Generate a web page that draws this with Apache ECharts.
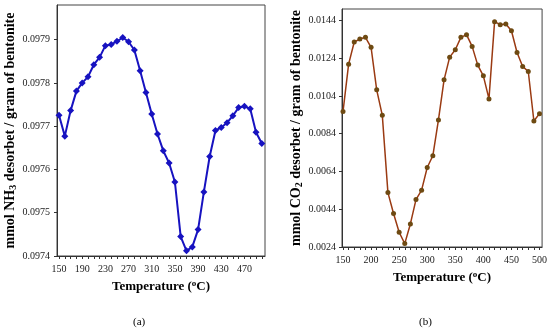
<!DOCTYPE html>
<html>
<head>
<meta charset="utf-8">
<script src="https://cdn.jsdelivr.net/npm/echarts@6/dist/echarts.min.js"></script>
<style>
html,body{margin:0;padding:0;background:#fff;}
#chart{width:550px;height:331px;}
</style>
</head>
<body>
<div id="chart"></div>
<script>
// Temperatures (°C)
const temps = [150,160,170,180,190,200,210,220,230,240,250,260,270,280,290,300,310,320,330,340,350,360,370,380,390,400,410,420,430,440,450,460,470,480,490,500];
// (a) NH3 desorbed
const nh3 = [0.097725,0.097677,0.097736,0.097781,0.097800,0.097814,0.097842,0.097859,0.097886,0.097889,0.097896,0.097905,0.097895,0.097876,0.097828,0.097778,0.097728,0.097682,0.097643,0.097615,0.097571,0.097445,0.097412,0.097421,0.097461,0.097548,0.097630,0.097690,0.097697,0.097708,0.097724,0.097743,0.097746,0.097740,0.097686,0.097660];
// (b) CO2 desorbed
const co2 = [0.00957,0.01208,0.01325,0.01341,0.01350,0.01297,0.01072,0.00937,0.00528,0.00417,0.00318,0.00258,0.00362,0.00491,0.00541,0.00661,0.00723,0.00913,0.01125,0.01245,0.01284,0.01350,0.01364,0.01302,0.01203,0.01146,0.01024,0.01433,0.01417,0.01421,0.01385,0.01270,0.01196,0.01169,0.00907,0.00946];
// tick labels
const xTicksA = [150,190,230,270,310,350,390,430,470];
const xTicksB = [150,200,250,300,350,400,450,500];
const xMinorTicks = [150,160,170,180,190,200,210,220,230,240,250,260,270,280,290,300,310,320,330,340,350,360,370,380,390,400,410,420,430,440,450,460,470,480,490,500];
const yTicksA = [0.0974,0.0975,0.0976,0.0977,0.0978,0.0979];
const yTicksB = [0.0024,0.0044,0.0064,0.0084,0.0104,0.0124,0.0144];

const serif = '"Liberation Serif","Times New Roman",serif';
const axisCol = '#333';
function richFor(size) {
  return {
    b: {fontFamily: serif, fontWeight: 'bold', fontSize: size, color: '#000'},
    sub: {fontFamily: serif, fontWeight: 'bold', fontSize: Math.round(size * 0.7), color: '#000', verticalAlign: 'bottom', padding: [6,0,0,0]},
    sup: {fontFamily: serif, fontWeight: 'bold', fontSize: Math.round(size * 0.7), color: '#000', verticalAlign: 'top', padding: [0,0,6,0]}
  };
}

function xAxisCfg(gridIndex, min, max, labels) {
  return {
    type: 'value', gridIndex, min, max,
    name: '{b|Temperature (}{sup|o}{b|C)}',
    nameLocation: 'middle', nameGap: 22,
    nameTextStyle: {rich: richFor(13)},
    splitLine: {show: false},
    axisLine: {show: true, onZero: false, lineStyle: {color: axisCol, width: 1}},
    axisTick: {show: true, length: 3, customValues: xMinorTicks.filter(v => v >= min && v <= max), lineStyle: {color: axisCol}},
    axisLabel: {customValues: labels, fontFamily: serif, fontSize: 10, color: '#222', margin: 8}
  };
}
function yAxisCfg(gridIndex, min, max, labels, name, gap, margin) {
  return {
    type: 'value', gridIndex, min, max,
    name, nameLocation: 'middle', nameGap: gap,
    nameTextStyle: {rich: richFor(14)},
    splitLine: {show: false},
    axisLine: {show: true, lineStyle: {color: axisCol, width: 1}},
    axisTick: {show: true, length: 3, customValues: labels, lineStyle: {color: axisCol}},
    axisLabel: {customValues: labels, fontFamily: serif, fontSize: 10, color: '#222', margin,
      formatter: v => v.toFixed(4)}
  };
}

const chart = echarts.init(document.getElementById('chart'), null, {renderer: 'canvas'});
chart.setOption({
  animation: false,
  backgroundColor: '#fff',
  title: [
    {text: '(a)', left: 128, top: 312, textStyle: {fontFamily: serif, fontSize: 11, fontWeight: 'normal', color: '#000'}},
    {text: '(b)', left: 414, top: 312, textStyle: {fontFamily: serif, fontSize: 11, fontWeight: 'normal', color: '#000'}}
  ],
  grid: [
    {left: 57, top: 5, width: 208, height: 251, show: true, borderColor: '#444', borderWidth: 1, backgroundColor: 'transparent'},
    {left: 342, top: 9, width: 201, height: 238, show: true, borderColor: '#444', borderWidth: 1, backgroundColor: 'transparent'}
  ],
  xAxis: [
    xAxisCfg(0, 146.5, 505.5, xTicksA),
    xAxisCfg(1, 148.2, 504.6, xTicksB)
  ],
  yAxis: [
    yAxisCfg(0, 0.0974, 0.09798, yTicksA, '{b|mmol NH}{sub|3}{b| desorbet / gram of bentonite}', 37, 7),
    yAxisCfg(1, 0.0024, 0.0150, yTicksB, '{b|mmol CO}{sub|2}{b| desorbet / gram of bentonite}', 31, 6)
  ],
  series: [
    {
      type: 'line', xAxisIndex: 0, yAxisIndex: 0,
      data: temps.map((t, i) => [t, nh3[i]]),
      symbol: 'diamond', symbolSize: 7, showSymbol: true,
      lineStyle: {color: '#1712c0', width: 2},
      itemStyle: {color: '#1712c0'}
    },
    {
      type: 'line', xAxisIndex: 1, yAxisIndex: 1,
      data: temps.map((t, i) => [t, co2[i]]),
      symbol: 'circle', symbolSize: 5, showSymbol: true,
      lineStyle: {color: '#9a3a12', width: 1.5},
      itemStyle: {color: '#6e4a12'}
    }
  ]
});
</script>
</body>
</html>
